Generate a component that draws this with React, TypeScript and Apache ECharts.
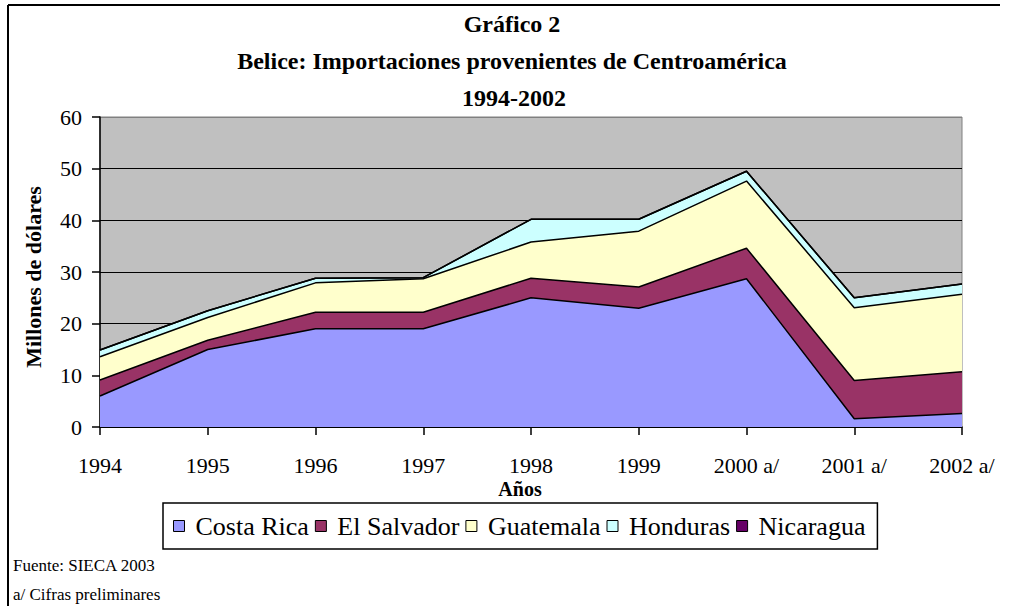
import React, { useEffect, useRef } from "react";
import * as echarts from "echarts";

const years = ["1994", "1995", "1996", "1997", "1998", "1999", "2000 a/", "2001 a/", "2002 a/"];
const costaRica = [6, 15, 19, 19, 25, 23, 28.7, 1.6, 2.6];
const elSalvador = [3.1, 1.8, 3.2, 3.2, 3.8, 4.1, 5.9, 7.4, 8.1];
const guatemala = [4.5, 4.4, 5.7, 6.5, 7.0, 10.8, 13.0, 14.1, 15.0];
const honduras = [1.3, 1.3, 0.9, 0.2, 4.4, 2.3, 1.9, 1.9, 2.0];
const nicaragua = [0, 0, 0, 0, 0, 0, 0, 0, 0];

const seriesNames = ["Costa Rica", "El Salvador", "Guatemala", "Honduras", "Nicaragua"];
const seriesData = [costaRica, elSalvador, guatemala, honduras, nicaragua];
const seriesColors = ["#9999FF", "#993366", "#FFFFCC", "#CCFFFF", "#660066"];

const FONT = "Liberation Serif";

function txt(text: string, x: number, y: number, size: number, bold: boolean, align: string, extra: any = {}) {
  return {
    type: "text",
    x,
    y,
    ...extra,
    style: {
      text,
      fontFamily: FONT,
      fontSize: size,
      fontWeight: bold ? "bold" : "normal",
      fill: "#000",
      textAlign: align,
      textVerticalAlign: "middle",
    },
  };
}

export default function App() {
  const ref = useRef<HTMLDivElement>(null);
  useEffect(() => {
    document.body.style.margin = "0";
    const chart = echarts.init(ref.current!, undefined, { renderer: "svg" });
    chart.setOption({
      animation: false,
      backgroundColor: "#ffffff",
      textStyle: { fontFamily: FONT },
      grid: {
        left: 100,
        right: 47,
        top: 117,
        bottom: 179,
        show: true,
        backgroundColor: "#C0C0C0",
        borderColor: "#808080",
        borderWidth: 1,
      },
      xAxis: {
        type: "category",
        boundaryGap: false,
        data: years,
        axisLine: { show: true, lineStyle: { color: "#000", width: 1.5 } },
        axisTick: { show: true, length: 8, lineStyle: { color: "#000", width: 1.5 } },
        axisLabel: { color: "#000", fontSize: 22, fontFamily: FONT, margin: 27 },
        splitLine: { show: false },
      },
      yAxis: {
        type: "value",
        min: 0,
        max: 60,
        interval: 10,
        axisLine: { show: true, lineStyle: { color: "#000", width: 1.5 } },
        axisTick: { show: true, length: 8, lineStyle: { color: "#000", width: 1.5 } },
        axisLabel: { color: "#000", fontSize: 22, fontFamily: FONT, margin: 18 },
        splitLine: {
          show: true,
          lineStyle: {
            color: ["#000", "#000", "#000", "#000", "#000", "#000", "#808080"],
            width: 1,
          },
        },
      },
      legend: {
        data: seriesNames,
        left: 163,
        top: 503,
        orient: "horizontal",
        icon: "rect",
        itemWidth: 11,
        itemHeight: 11,
        itemGap: 6,
        padding: [10, 12, 10, 10],
        borderColor: "#000",
        borderWidth: 1.5,
        backgroundColor: "#fff",
        itemStyle: { borderColor: "#000", borderWidth: 1 },
        textStyle: { color: "#000", fontSize: 26, fontFamily: FONT, padding: [0, 0, 0, 6] },
      },
      series: seriesNames.map((name, i) => ({
        name,
        type: "line",
        stack: "total",
        data: seriesData[i],
        symbol: "none",
        color: seriesColors[i],
        itemStyle: { color: seriesColors[i] },
        lineStyle: { color: "#000", width: 1.5 },
        areaStyle: { color: seriesColors[i], opacity: 1 },
      })),
      graphic: [
        { type: "line", shape: { x1: 8, y1: 5, x2: 1000, y2: 5 }, style: { stroke: "#000", lineWidth: 2 } },
        { type: "line", shape: { x1: 8, y1: 5, x2: 8, y2: 606 }, style: { stroke: "#000", lineWidth: 2 } },
        txt("Gráfico 2", 512, 24, 24, true, "center"),
        txt("Belice: Importaciones provenientes de Centroamérica", 512, 61, 24, true, "center"),
        txt("1994-2002", 514, 98, 24, true, "center"),
        txt("Millones de dólares", 33, 277, 22, true, "center", { rotation: Math.PI / 2 }),
        txt("Años", 520, 489, 20, true, "center"),
        txt("Fuente: SIECA 2003", 13, 565, 17, false, "left"),
        txt("a/ Cifras preliminares", 13, 594, 17, false, "left"),
      ],
    });
    return () => chart.dispose();
  }, []);
  return <div ref={ref} style={{ width: 1009, height: 606 }} />;
}
